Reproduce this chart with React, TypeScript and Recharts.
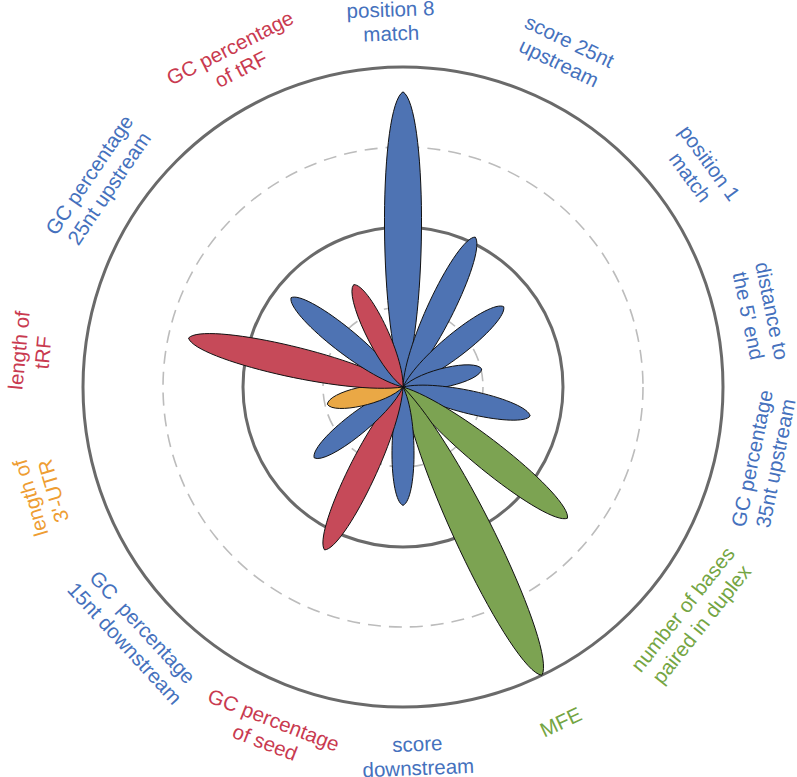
import { RadarChart, PolarGrid, PolarAngleAxis, PolarRadiusAxis, Radar } from "recharts";

// features, clockwise from the top
const categories = [
  "position 8\nmatch",
  "score 25nt\nupstream",
  "position 1\nmatch",
  "distance to\nthe 5' end",
  "GC percentage\n35nt upstream",
  "number of bases\npaired in duplex",
  "MFE",
  "score\ndownstream",
  "GC percentage\nof seed",
  "GC  percentage\n15nt downstream",
  "length of\n3'-UTR",
  "length of\ntRF",
  "GC percentage\n25nt upstream",
  "GC percentage\nof tRF",
];

const groups = [
  "blue", "blue", "blue", "blue", "blue", "green", "green",
  "blue", "red", "blue", "orange", "red", "blue", "red",
];

const importance = [3.69, 2.08, 1.61, 1.01, 1.63, 2.63, 4.0, 1.48, 2.26, 1.42, 0.97, 2.75, 1.79, 1.42];

const FILL: Record<string, string> = {
  blue: "#4e73b3",
  green: "#7ca352",
  red: "#c64a59",
  orange: "#eaa845",
};
const TEXT: Record<string, string> = {
  blue: "#4571bd",
  green: "#74a543",
  red: "#c93a50",
  orange: "#ee9d32",
};

// hand placement of the labels in the original (degrees / px from centre)
const LABEL_NUDGE = [-1.9, 0, 2.4, 1.2, -1.3, -0.1, 0.5, -2.3, -4.5, -4.1, -3.7, -7.4, -4.5, -1.3];
const LABEL_RADIUS = [366, 372, 368, 365, 368, 369, 370, 369, 369, 366, 377, 374, 367, 369];

const data = categories.map((name, i) => ({ name, value: importance[i], group: groups[i] }));

// chart covers the whole window, pinned at the page corner
const W = 797;
const H = 777;
const CX = 403;
const CY = 387;
const R = 320;
const LH = 24;
const FONT = 20.5;

const petalPath = (cx: number, cy: number, x: number, y: number) => {
  const dx = x - cx;
  const dy = y - cy;
  const L = Math.hypot(dx, dy);
  if (L < 1) return "";
  const ux = dx / L, uy = dy / L;
  const nx = -uy, ny = ux;
  const w = (12 + 0.085 * L) / 0.864;
  const p = (a: number, b: number) => `${cx + ux * a + nx * b},${cy + uy * a + ny * b}`;
  return (
    `M${cx},${cy} C${p(0.25 * L, 0.6 * w)} ${p(0.95 * L, 0.55 * w)} ${x},${y} ` +
    `C${p(0.95 * L, -0.55 * w)} ${p(0.25 * L, -0.6 * w)} ${cx},${cy} Z`
  );
};

const Petals = (props: any) => {
  const { points } = props;
  return (
    <g>
      {points.map((pt: any, i: number) => (
        <path
          key={i}
          d={petalPath(pt.cx, pt.cy, pt.x, pt.y)}
          fill={FILL[pt.payload.group]}
          stroke="#111"
          strokeWidth={1}
        />
      ))}
    </g>
  );
};

const AngleTick = (props: any) => {
  const { payload } = props;
  const idx = categories.indexOf(payload.value);
  const base = (((90 - payload.coordinate) % 360) + 360) % 360;
  const theta = base + LABEL_NUDGE[idx];
  const r = LABEL_RADIUS[idx];
  const rad = (theta * Math.PI) / 180;
  const x = CX + r * Math.sin(rad);
  const y = CY - r * Math.cos(rad);
  const flip = base > 90 && base < 250;
  const rot = flip ? theta - 180 : theta;
  const lines = String(payload.value).split("\n");
  return (
    <g transform={`translate(${x},${y}) rotate(${rot})`}>
      <text
        textAnchor="middle"
        fill={TEXT[groups[idx]]}
        fontSize={FONT}
        fontFamily="'Liberation Sans', Arial, sans-serif"
        style={{ whiteSpace: "pre" }}
      >
        {lines.map((ln, i) => (
          <tspan key={i} x={0} y={(i - (lines.length - 1) / 2) * LH + FONT * 0.36}>
            {ln}
          </tspan>
        ))}
      </text>
    </g>
  );
};

export default function App() {
  return (
    <div style={{ position: "absolute", left: 0, top: 0 }}>
      <RadarChart
        width={W}
        height={H}
        data={data}
        cx={CX}
        cy={CY}
        outerRadius={R}
        margin={{ top: 0, right: 0, bottom: 0, left: 0 }}
      >
        <PolarGrid
          gridType="circle"
          radialLines={false}
          polarRadius={[R * 0.25, R * 0.75]}
          stroke="#bcbcbc"
          strokeWidth={1.6}
          strokeDasharray="13 8"
        />
        <PolarGrid
          gridType="circle"
          radialLines={false}
          polarRadius={[R * 0.5, R]}
          stroke="#6a6a6a"
          strokeWidth={3}
        />
        <PolarRadiusAxis domain={[0, 4]} tick={false} axisLine={false} />
        <PolarAngleAxis dataKey="name" tick={<AngleTick />} axisLine={false} tickLine={false} />
        <Radar dataKey="value" shape={<Petals />} isAnimationActive={false} />
      </RadarChart>
    </div>
  );
}
